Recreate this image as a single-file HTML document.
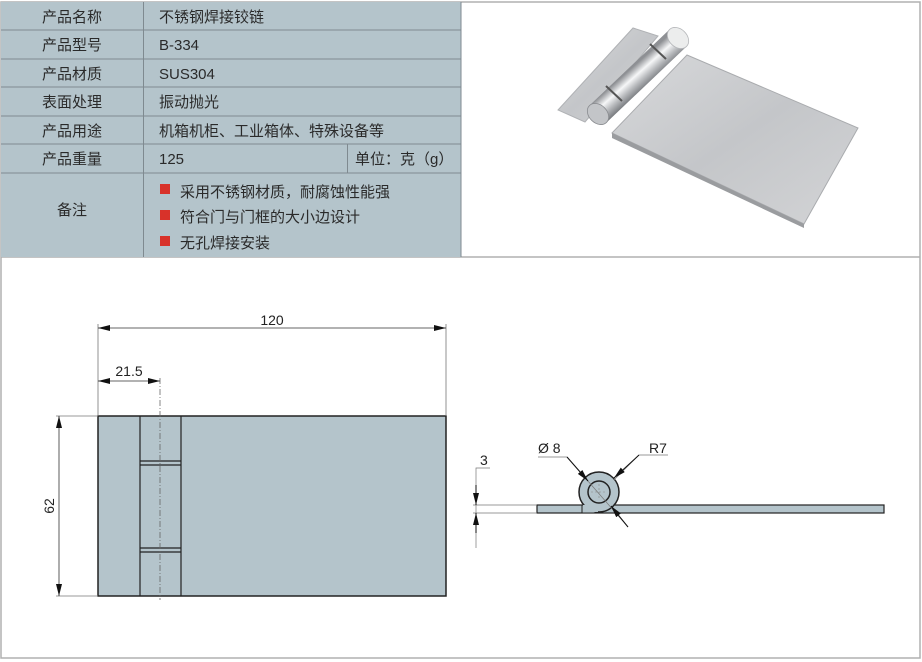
<!DOCTYPE html>
<html><head><meta charset="utf-8"><style>
html,body{margin:0;padding:0;background:#fff;}
svg{display:block;}
text{font-family:"Liberation Sans","Noto Sans CJK SC",sans-serif;}
</style></head><body>
<svg width="922" height="662" viewBox="0 0 922 662" xmlns="http://www.w3.org/2000/svg">
<defs>
<linearGradient id="pl" x1="0" y1="0" x2="1" y2="1">
<stop offset="0" stop-color="#d8d9db"/><stop offset="0.5" stop-color="#c4c6c9"/><stop offset="1" stop-color="#d3d4d6"/></linearGradient>
<linearGradient id="cy" x1="590" y1="105" x2="606" y2="123" gradientUnits="userSpaceOnUse">
<stop offset="0" stop-color="#8e9094"/><stop offset="0.35" stop-color="#f6f7f8"/><stop offset="0.65" stop-color="#b8babd"/><stop offset="1" stop-color="#75787c"/></linearGradient>
<marker id="ar" viewBox="0 0 12 6" refX="12" refY="3" markerWidth="12" markerHeight="6" orient="auto-start-reverse" markerUnits="userSpaceOnUse"><path d="M0,0L12,3L0,6z" fill="#111"/></marker>
</defs>
<rect x="1" y="2" width="919" height="656" fill="none" stroke="#b0b0b0" stroke-width="1.5"/>
<line x1="1" y1="257" x2="920" y2="257" stroke="#b0b0b0" stroke-width="1.5"/>
<rect x="1" y="2" width="460" height="255" fill="#b4c4cb"/>
<g stroke="#7f8a90" stroke-width="1">
<line x1="1" y1="30" x2="461" y2="30"/><line x1="1" y1="59" x2="461" y2="59"/>
<line x1="1" y1="87" x2="461" y2="87"/><line x1="1" y1="116" x2="461" y2="116"/>
<line x1="1" y1="144" x2="461" y2="144"/><line x1="1" y1="173" x2="461" y2="173"/>
<line x1="143.5" y1="2" x2="143.5" y2="257"/><line x1="347.5" y1="144" x2="347.5" y2="173"/>
<line x1="461" y1="2" x2="461" y2="257"/>
</g>
<g font-size="15" fill="#2a2a2a">
<text x="72" y="22" text-anchor="middle">产品名称</text>
<text x="72" y="50" text-anchor="middle">产品型号</text>
<text x="72" y="79" text-anchor="middle">产品材质</text>
<text x="72" y="107" text-anchor="middle">表面处理</text>
<text x="72" y="136" text-anchor="middle">产品用途</text>
<text x="72" y="164" text-anchor="middle">产品重量</text>
<text x="72" y="215" text-anchor="middle">备注</text>
<text x="159" y="22">不锈钢焊接铰链</text>
<text x="159" y="50">B-334</text>
<text x="159" y="79">SUS304</text>
<text x="159" y="107">振动抛光</text>
<text x="159" y="136">机箱机柜、工业箱体、特殊设备等</text>
<text x="159" y="164">125</text>
<text x="355" y="164">单位：克（g）</text>
<text x="180" y="197">采用不锈钢材质，耐腐蚀性能强</text>
<text x="180" y="222">符合门与门框的大小边设计</text>
<text x="180" y="248">无孔焊接安装</text>
</g>
<rect x="160" y="184" width="10" height="10" fill="#d8322a"/>
<rect x="160" y="210" width="10" height="10" fill="#d8322a"/>
<rect x="160" y="236" width="10" height="10" fill="#d8322a"/>
<!-- photo -->
<polygon points="558,110 633,28 658,36 585,122" fill="url(#pl)" stroke="#b0b2b5" stroke-width="1"/>
<polygon points="612,133 687,55 858,128 804,224" fill="url(#pl)" stroke="#a9abae" stroke-width="1"/>
<polygon points="612,133 804,224 804,228 612,138" fill="#9a9c9f"/>
<polygon points="590,105 670,29 686,47 606,123" fill="url(#cy)"/>
<ellipse cx="678" cy="38" rx="9" ry="12" transform="rotate(-46 678 38)" fill="#eceded" stroke="#b5b7ba" stroke-width="0.8"/>
<ellipse cx="598" cy="114" rx="9" ry="12" transform="rotate(-46 598 114)" fill="#c3c5c8" stroke="#8a8c90" stroke-width="0.8"/>
<line x1="606" y1="86" x2="622" y2="101" stroke="#555" stroke-width="2"/>
<line x1="650" y1="44" x2="666" y2="59" stroke="#555" stroke-width="2"/>
<!-- front view -->
<rect x="98" y="416" width="348" height="180" fill="#b4c4cb" stroke="#222" stroke-width="1.5"/>
<g stroke="#222" stroke-width="1.2">
<line x1="140" y1="416" x2="140" y2="596"/><line x1="181" y1="416" x2="181" y2="596"/>
<line x1="140" y1="461" x2="181" y2="461"/><line x1="140" y1="465" x2="181" y2="465"/>
<line x1="140" y1="548" x2="181" y2="548"/><line x1="140" y1="552" x2="181" y2="552"/>
</g>
<line x1="160" y1="378" x2="160" y2="600" stroke="#666" stroke-width="0.8" stroke-dasharray="6,2,1,2"/>
<g stroke="#777" stroke-width="0.8">
<line x1="98" y1="324" x2="98" y2="416"/><line x1="446" y1="324" x2="446" y2="416"/>
<line x1="56" y1="416" x2="98" y2="416"/><line x1="56" y1="596" x2="98" y2="596"/>
</g>
<g stroke="#333" stroke-width="0.8" fill="none">
<line x1="98" y1="328" x2="446" y2="328" marker-start="url(#ar)" marker-end="url(#ar)"/>
<line x1="98" y1="381" x2="160" y2="381" marker-start="url(#ar)" marker-end="url(#ar)"/>
<line x1="59" y1="416" x2="59" y2="596" marker-start="url(#ar)" marker-end="url(#ar)"/>
</g>
<g font-size="14" fill="#222">
<text x="272" y="325" text-anchor="middle">120</text>
<text x="129" y="376" text-anchor="middle">21.5</text>
<text x="54" y="506" text-anchor="middle" transform="rotate(-90 54 506)">62</text>
</g>
<!-- side view -->
<rect x="537" y="505" width="347" height="8" fill="#b4c4cb" stroke="#222" stroke-width="1.2"/>
<rect x="582" y="505" width="17" height="8" fill="#b4c4cb" stroke="#222" stroke-width="1"/>
<circle cx="599" cy="492" r="20" fill="#b4c4cb" stroke="#222" stroke-width="1.5"/>
<circle cx="599" cy="492" r="11" fill="#b4c4cb" stroke="#222" stroke-width="1.5"/>
<rect x="583" y="505" width="15" height="7" fill="#b4c4cb"/>
<line x1="599" y1="484" x2="599" y2="500" stroke="#888" stroke-width="0.6" stroke-dasharray="2,2"/>
<line x1="591" y1="492" x2="607" y2="492" stroke="#888" stroke-width="0.6" stroke-dasharray="2,2"/>
<g stroke="#777" stroke-width="0.7" fill="none">
<polyline points="538,457 567,457 628,527"/>
<polyline points="668,455 639,455 614,480"/>
<line x1="473" y1="505" x2="537" y2="505"/><line x1="473" y1="513" x2="537" y2="513"/>
<polyline points="490,468 476,468 476,548"/>
</g>
<g stroke="#111" stroke-width="1" fill="none">
<line x1="567" y1="457" x2="588" y2="481" marker-end="url(#ar)"/>
<line x1="628" y1="527" x2="611" y2="506" marker-end="url(#ar)"/>
<line x1="639" y1="455" x2="614" y2="478" marker-end="url(#ar)"/>
<line x1="476" y1="485" x2="476" y2="505" marker-end="url(#ar)"/>
<line x1="476" y1="533" x2="476" y2="513" marker-end="url(#ar)"/>
</g>
<g font-size="14" fill="#222">
<text x="538" y="453">Ø 8</text>
<text x="649" y="453">R7</text>
<text x="480" y="465">3</text>
</g>
</svg>
</body></html>
